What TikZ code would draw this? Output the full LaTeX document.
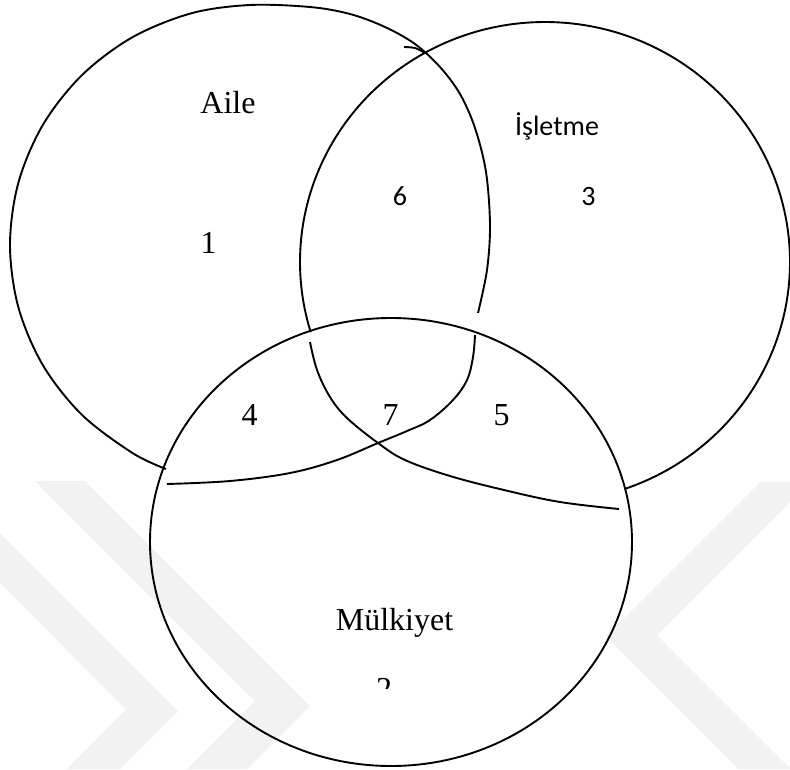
\documentclass[tikz,border=0pt]{standalone}
\usepackage{fontspec}
\setmainfont{Liberation Serif}
\newfontfamily\calibrifont{Carlito}
\begin{document}
\begin{tikzpicture}[x=1pt,y=-1pt,
  venn/.style={draw=black,line width=1.9pt,line join=round},
  wmark/.style={fill=black!5,draw=none},
  tnr/.style={inner sep=0pt,anchor=base,font=\fontsize{32}{38}\selectfont},
  cal/.style={inner sep=0pt,anchor=base,font=\calibrifont\fontsize{28}{34}\selectfont}]
\useasboundingbox (0,0) rectangle (790,769);
% watermark
\begin{scope}
\clip (0,0) rectangle (790,769);
\fill[wmark] (0,533) -- (178,711) -- (120,769) -- (67,769) -- (126,709.5) -- (0,583) -- cycle;
\fill[wmark] (35,481) -- (85,481) -- (310,706) -- (247,769) -- (187,769) -- (255,701) -- cycle;
\fill[wmark] (760,482) -- (810,482) -- (657,635) -- (791,769) -- (739,769) -- (606,636) -- cycle;
\end{scope}
% Aile outer
\draw[venn] plot[smooth,tension=0.55] coordinates {(166,469) (132.5,453) (81.8,414.7) (42.8,365) (18.3,307) (10,245) (18.3,183) (42.8,125) (81.8,75.3) (132.5,37.2) (191.6,13.2) (250,5) (310,7) (350,14) (385,27) (415,44) (440,67) (460,94) (475,128) (486,172) (490,225) (487,270) (478,313)};
% hook
\draw[venn] plot[smooth] coordinates {(404,47) (415,48) (425,53)};
% Aile bottom
\draw[venn] plot[smooth,tension=0.6] coordinates {(475,335) (473,357) (467,380) (453,400) (430,420) (407,431) (378,443) (337,460) (290,473) (230,481) (167,484)};
% Isletme outer
\draw[venn] plot[domain=163:431,samples=120,smooth] ({545+245*cos(\x)},{262+240*sin(\x)});
% Isletme bottom
\draw[venn] plot[smooth,tension=0.6] coordinates {(310,342) (317,370) (330,397) (347,418) (378,443) (405,460) (450,476) (504,490) (560,502) (619,509)};
% Mulkiyet
\draw[venn] (391,542) ellipse [x radius=241pt, y radius=224pt];
% labels
\node[tnr] (aile) at (228,113) {Aile};
\node[tnr] (n1) at (208.5,253) {1};
\node[cal] (isletme) at (557,135.5) {İşletme};
\node[cal] (n6) at (400,205) {6};
\node[cal] (n3) at (588.5,205) {3};
\node[tnr] (n4) at (249.5,425) {4};
\node[tnr] (n7) at (390.5,425) {7};
\node[tnr] (n5) at (501.5,425) {5};
\node[tnr] (mulk) at (394.5,630) {Mülkiyet};
\begin{scope}
\clip (300,660) rectangle (480,688);
\node[tnr] (n2) at (384,699.5) {2};
\end{scope}
\end{tikzpicture}
\end{document}
